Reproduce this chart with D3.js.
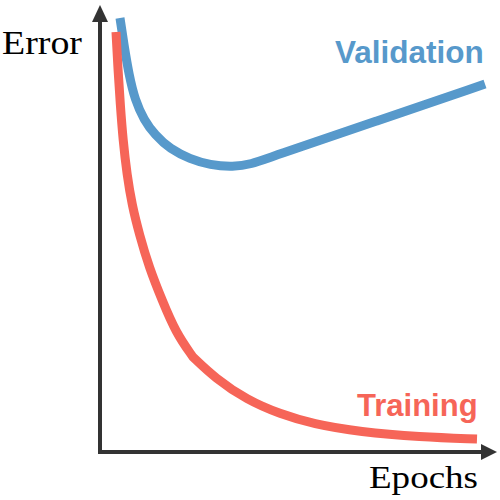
<html>
<script src="https://d3js.org/d3.v7.min.js"></script>
<style>
    body { margin: 0; background: #fff; }
</style>

<body>
    <script>
        var width = 500;
        var height = 500;

        // epoch -> error
        var validationEpochs = [5, 6, 7.25, 8.75, 11, 13.75, 17.5, 22.5, 27.5, 33.25, 38, 42, 69.25, 96.25];
        var validationError = [108.5, 101.75, 94.25, 88, 83, 79.25, 75.75, 73.25, 71.75, 71.25, 72, 73.5, 82.75, 92];

        var trainingEpochs = [4, 4.5, 5.08, 5.75, 6.75, 8, 9.88, 12.25, 15.5, 19, 23.25, 28.75, 36.75, 45, 53.25, 65, 80, 94.25];
        var trainingError = [105, 95.5, 86.75, 78, 69.25, 61.75, 54.25, 46.25, 38, 29.75, 23.75, 18.5, 13, 9.5, 7, 5, 3.75, 3.25];
        var trainingKink = 10; // the red curve has a corner here

        var seriesNames = ["Validation", "Training"];
        var axisLabels = ["Epochs", "Error"];

        var svg = d3.select("body").append("svg")
            .attr("width", width)
            .attr("height", height);

        var x = d3.scaleLinear().domain([0, 100]).range([100, 500]);
        var y = d3.scaleLinear().domain([0, 113]).range([452, 0]);

        var line = d3.line()
            .x(d => x(d[0]))
            .y(d => y(d[1]))
            .curve(d3.curveBasis);

        var validation = d3.zip(validationEpochs, validationError);
        var training = d3.zip(trainingEpochs, trainingError);
        // repeat the corner point so the spline keeps it sharp
        training.splice(trainingKink, 0, training[trainingKink], training[trainingKink]);

        svg.append("path")
            .datum(validation)
            .attr("d", line)
            .attr("fill", "none")
            .attr("stroke", "#5799cb")
            .attr("stroke-width", 9);

        svg.append("path")
            .datum(training)
            .attr("d", line)
            .attr("fill", "none")
            .attr("stroke", "#f66558")
            .attr("stroke-width", 9);

        // axes with arrow heads
        var axisColor = "#333";
        svg.append("line")
            .attr("x1", 100).attr("y1", 454)
            .attr("x2", 100).attr("y2", 20)
            .attr("stroke", axisColor).attr("stroke-width", 4);
        svg.append("line")
            .attr("x1", 98).attr("y1", 452)
            .attr("x2", 484).attr("y2", 452)
            .attr("stroke", axisColor).attr("stroke-width", 4);
        svg.append("path")
            .attr("d", "M100,5 L108,22 L92,22 Z")
            .attr("fill", axisColor);
        svg.append("path")
            .attr("d", "M497,452 L481,444 L481,460 Z")
            .attr("fill", axisColor);

        svg.append("text")
            .attr("x", 2).attr("y", 54)
            .attr("font-family", "'Liberation Serif', serif")
            .attr("font-size", 33)
            .attr("textLength", 80)
            .attr("lengthAdjust", "spacingAndGlyphs")
            .attr("fill", "#000")
            .text(axisLabels[1]);

        svg.append("text")
            .attr("x", 369).attr("y", 488)
            .attr("font-family", "'Liberation Serif', serif")
            .attr("font-size", 31)
            .attr("textLength", 109)
            .attr("lengthAdjust", "spacingAndGlyphs")
            .attr("fill", "#000")
            .text(axisLabels[0]);

        svg.append("text")
            .attr("x", 335).attr("y", 63)
            .attr("font-family", "'Liberation Sans', Arial, sans-serif")
            .attr("font-weight", "bold")
            .attr("font-size", 31.5)
            .attr("fill", "#5799cb")
            .text(seriesNames[0]);

        svg.append("text")
            .attr("x", 357).attr("y", 416)
            .attr("font-family", "'Liberation Sans', Arial, sans-serif")
            .attr("font-weight", "bold")
            .attr("font-size", 31)
            .attr("fill", "#f66558")
            .text(seriesNames[1]);
    </script>
</body>

</html>
